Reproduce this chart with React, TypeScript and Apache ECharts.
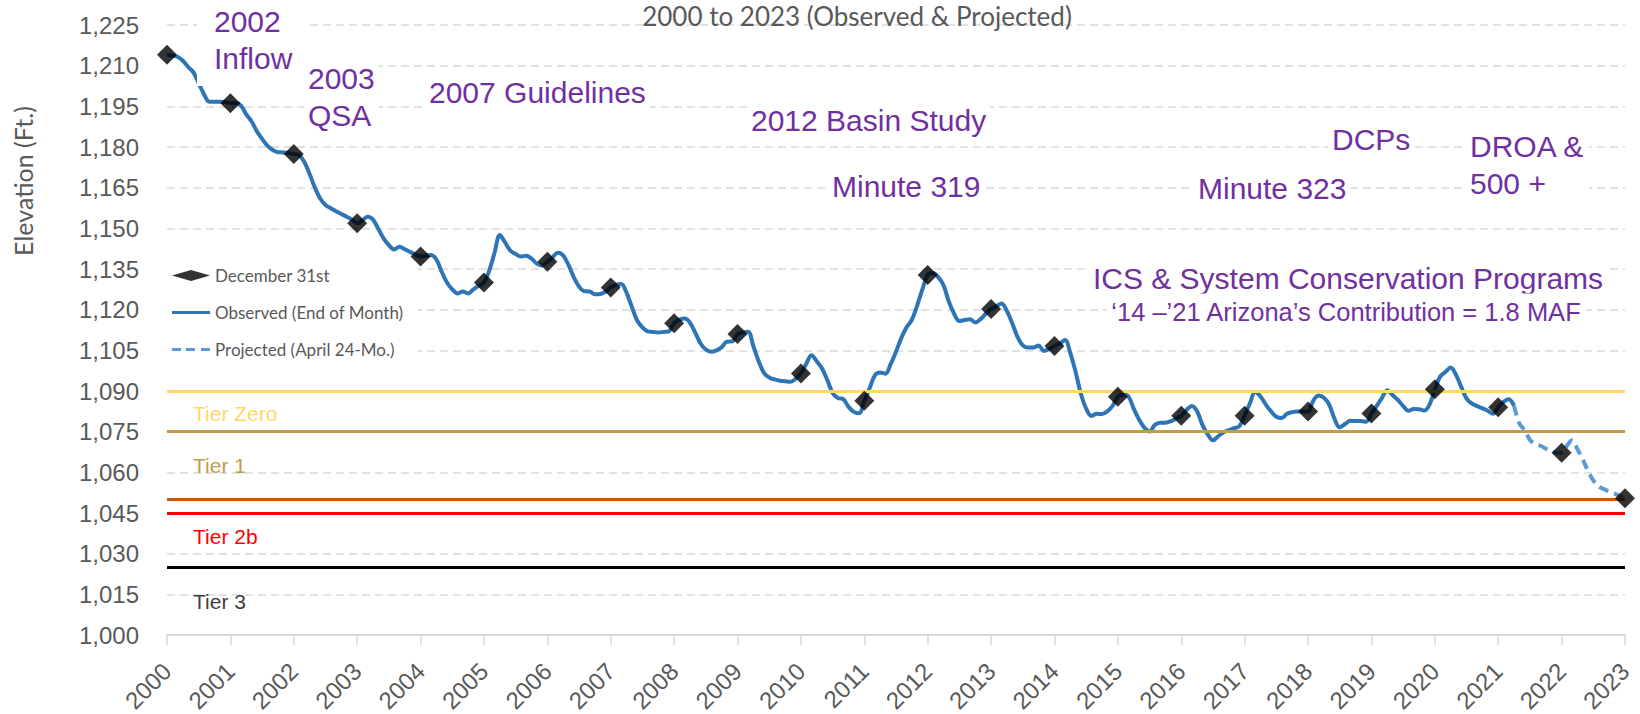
import React, { useEffect, useRef } from "react";
import * as echarts from "echarts";

// ---------- DATA ----------
const START_YEAR = 2000;

// End-of-month elevation (ft), observed, month 0 = Dec 31 1999 ... month 255 = Mar 2021
const observedElevation = [
  1214, 1213.7, 1213.3, 1211.8, 1209.5, 1207.5, 1203.5, 1199.5, 1196.7, 1196.7, 1196.7, 1196.6,
  1196.1, 1196.2, 1195.3, 1192, 1189.5, 1185.8, 1183, 1180.5, 1178.9, 1178.1, 1178, 1177.8,
  1177.4, 1177, 1174.5, 1170, 1165, 1161, 1158.6, 1157.4, 1156.3, 1155.3, 1154.3, 1153.2,
  1151.9, 1153, 1154.3, 1153.2, 1149.8, 1146.3, 1143.8, 1142.2, 1143.2, 1142.3, 1141.3, 1140.4,
  1139.6, 1140, 1140.2, 1138.5, 1134, 1130, 1127.5, 1126, 1126.7, 1126, 1127.5, 1128.8,
  1130, 1134.4, 1141, 1147.5, 1144.8, 1141.8, 1140.5, 1139.6, 1139.9, 1138.8, 1137, 1136.3,
  1137.7, 1139.3, 1141, 1140, 1136.5, 1132, 1128.5, 1126.8, 1126.7, 1125.7, 1125.8, 1126.6,
  1128.2, 1129.2, 1129.5, 1126.2, 1121, 1116, 1113.5, 1112, 1111.8, 1111.6, 1111.8, 1112,
  1115, 1116.3, 1116.7, 1115.2, 1111.5, 1107.5, 1105.3, 1104.5, 1105, 1106.2, 1108.2, 1108.3,
  1111, 1111.6, 1111.9, 1106.5, 1101, 1096.7, 1095, 1094.3, 1093.8, 1093.6, 1093.4, 1094.5,
  1096.5, 1100, 1103.2, 1101, 1098.3, 1094, 1089.3, 1087.4, 1087, 1084.2, 1082.3, 1081.8,
  1086.4, 1091, 1095.8, 1096.8, 1096.4, 1100, 1104.5, 1109.5, 1113.5, 1116.2, 1121.5, 1127.5,
  1132.8, 1133.5, 1132, 1129, 1123, 1118.5, 1115.8, 1116.2, 1116.5, 1115.3, 1116.5, 1118.5,
  1120.2, 1121.3, 1122.3, 1119.5, 1115, 1110, 1106.8, 1106, 1106, 1106.8, 1104.8, 1105.5,
  1106.6, 1107.5, 1108.8, 1104, 1097, 1089, 1083.5, 1080.8, 1081.6, 1081.5, 1082.5, 1084.5,
  1087.9, 1088.7, 1088, 1083.5, 1079.5, 1076.5, 1075.1, 1077.5, 1078.3, 1078.3, 1078.8, 1079.8,
  1080.9, 1083, 1084.5, 1082.5, 1077.5, 1074, 1071.8, 1073.3, 1074.8, 1075.6, 1076.3, 1077,
  1080.9, 1085.5, 1089.6, 1088, 1085, 1082.5, 1080.5, 1080, 1081.6, 1082.2, 1082.4, 1082.4,
  1082.4, 1086.5, 1088.3, 1087.5, 1085, 1079.8, 1076.6, 1077.8, 1079, 1078.9, 1078.9, 1078.7,
  1081.7, 1084.5, 1087.5, 1090.3, 1088.5, 1086.7, 1084.5, 1082.7, 1083.4, 1083.3, 1082.8, 1085,
  1090.6, 1095.3, 1097, 1098.7, 1096, 1091.5, 1087.2, 1085.4, 1084.4, 1083.6, 1082.7, 1081.6,
  1084, 1086, 1087, 1084.5,
];

// Projected (April 24-Month study), month 255 ... month 276 (Dec 31 2022)
const PROJECTED_START_MONTH = 255;
const projectedElevation = [
  1084.5, 1078, 1075.5, 1072, 1070.5, 1069.8, 1068.8, 1067.7, 1067.3,
  1067.2, 1069.8, 1071.8, 1068.5, 1064.8, 1060.5, 1057, 1054.8, 1053.8, 1052.9, 1052.2, 1051.3,
  1050.4,
];

// December 31st markers (plotted at the start of each year tick)
const dec31Years = [
  2000, 2001, 2002, 2003, 2004, 2005, 2006, 2007, 2008, 2009, 2010, 2011,
  2012, 2013, 2014, 2015, 2016, 2017, 2018, 2019, 2020, 2021, 2022, 2023,
];
const dec31Elevation = [
  1214, 1196.1, 1177.4, 1151.9, 1139.6, 1130, 1137.7, 1128.2, 1115, 1111, 1096.5, 1086.4,
  1132.8, 1120.2, 1106.6, 1087.9, 1080.9, 1080.9, 1082.4, 1081.7, 1090.6, 1084, 1067.2, 1050.4,
];

// Shortage tier thresholds
const tierLevels = [1090, 1075, 1050, 1045, 1025];
const tierColors = ["#FFD966", "#BF9E46", "#C55A11", "#FF0000", "#000000"];

const Y_MIN = 1000;
const Y_MAX = 1225;
const Y_STEP = 15;
const X_MIN = 2000;
const X_MAX = 2023;

const NAME_DEC = "December 31st";
const NAME_OBS = "Observed (End of Month)";
const NAME_PROJ = "Projected (April 24-Mo.)";

const PURPLE = "#7030A0";
const ARIAL = '"Liberation Sans", Arial, sans-serif';
const CALIBRI = 'Lato, "Open Sans", sans-serif';

function annotation(text: string, x: number, y: number, size = 30, align = "left", lh = 37) {
  return {
    type: "text",
    z: 1,
    silent: true,
    style: {
      text,
      x,
      y,
      fill: PURPLE,
      font: `${size}px ${ARIAL}`,
      align,
      verticalAlign: "middle",
      lineHeight: lh,
      backgroundColor: "#fff",
      padding: [0, 4],
    },
  };
}

function tierLabel(text: string, color: string, y: number) {
  return {
    type: "text",
    z: 1,
    silent: true,
    style: { text, x: 193, y, fill: color, font: `21px ${ARIAL}`, verticalAlign: "middle" },
  };
}

export default function App() {
  const ref = useRef<HTMLDivElement>(null);

  useEffect(() => {
    if (!ref.current) return;
    const chart = echarts.init(ref.current, undefined, { renderer: "svg" });

    const obsData = observedElevation.map((v, i) => [START_YEAR + i / 12, v]);
    const projData = projectedElevation.map((v, i) => [
      START_YEAR + (PROJECTED_START_MONTH + i) / 12,
      v,
    ]);
    const decData = dec31Years.map((yr, i) => [yr, dec31Elevation[i]]);

    const option: any = {
      animation: false,
      backgroundColor: "#fff",
      title: {
        text: "2000 to 2023 (Observed & Projected)",
        left: 857,
        top: 3,
        padding: 0,
        textAlign: "center",
        textStyle: { fontFamily: CALIBRI, fontSize: 26, fontWeight: "normal", color: "#595959" },
      },
      grid: { left: 167, right: 15, top: 25, bottom: 79, containLabel: false, outerBoundsMode: "none" },
      legend: {
        data: [
          { name: NAME_DEC, icon: "diamond" },
          { name: NAME_OBS, icon: "path://M0,0L38,0L38,3L0,3Z" },
          {
            name: NAME_PROJ,
            icon: "path://M0,0L9,0L9,3L0,3Z M14,0L23,0L23,3L14,3Z M29,0L38,0L38,3L29,3Z",
          },
        ],
        orient: "vertical",
        left: 164,
        top: 261,
        itemWidth: 38,
        itemHeight: 11,
        itemGap: 20,
        padding: [6, 14, 6, 8],
        backgroundColor: "#fff",
        selectedMode: false,
        textStyle: { fontFamily: CALIBRI, fontSize: 17, color: "#595959", lineHeight: 16 },
      },
      xAxis: {
        type: "value",
        min: X_MIN,
        max: X_MAX,
        interval: 1,
        axisLine: { show: true, lineStyle: { color: "#D9D9D9", width: 2 } },
        axisTick: { show: true, length: 10, lineStyle: { color: "#D9D9D9", width: 1.5 } },
        axisLabel: {
          rotate: 45,
          margin: 32,
          fontFamily: ARIAL,
          fontSize: 24,
          color: "#595959",
          formatter: (v: number) => String(v),
        },
        splitLine: { show: false },
      },
      yAxis: {
        type: "value",
        min: Y_MIN,
        max: Y_MAX,
        interval: Y_STEP,
        axisLine: { show: false },
        axisTick: { show: false },
        axisLabel: {
          margin: 28,
          fontFamily: ARIAL,
          fontSize: 24,
          color: "#595959",
          formatter: (v: number) => v.toLocaleString("en-US"),
        },
        splitLine: { show: true, lineStyle: { color: "#D9D9D9", width: 1.5, type: [8, 5] } },
      },
      series: [
        {
          name: "tiers",
          type: "line",
          z: 1,
          data: [[X_MIN, Y_MIN]],
          symbol: "none",
          silent: true,
          lineStyle: { opacity: 0 },
          markLine: {
            silent: true,
            symbol: ["none", "none"],
            label: { show: false },
            data: tierLevels.map((lv, i) => ({
              yAxis: lv,
              lineStyle: { color: tierColors[i], width: 3, type: "solid" },
            })),
          },
        },
        {
          name: NAME_OBS,
          type: "line",
          z: 3,
          data: obsData,
          symbol: "none",
          smooth: 0.35,
          lineStyle: { color: "#2E75B6", width: 4 },
          itemStyle: { color: "#2E75B6" },
        },
        {
          name: NAME_PROJ,
          type: "line",
          z: 3,
          data: projData,
          symbol: "none",
          smooth: 0.35,
          lineStyle: { color: "#5B9BD5", width: 4, type: [10, 6] },
          itemStyle: { color: "#5B9BD5" },
        },
        {
          name: NAME_DEC,
          type: "scatter",
          z: 5,
          data: decData,
          symbol: "diamond",
          symbolSize: 20,
          itemStyle: { color: "#000" },
        },
      ],
      graphic: [
        {
          type: "text",
          z: 1,
          silent: true,
          rotation: Math.PI / 2,
          x: 23,
          y: 181,
          style: {
            text: "Elevation (Ft.)",
            x: 0,
            y: 0,
            fill: "#595959",
            font: `25px ${CALIBRI}`,
            align: "center",
            verticalAlign: "middle",
          },
        },
        {
          type: "rect",
          z: 4,
          silent: true,
          shape: { x: 197, y: 0, width: 108, height: 86 },
          style: { fill: "#fff" },
        },
        {
          type: "rect",
          z: 1,
          silent: true,
          shape: { x: 167, y: 40, width: 30, height: 46 },
          style: { fill: "#fff" },
        },
        { ...annotation("2002\nInflow", 210, 39.5), z: 5 },
        annotation("2003\nQSA", 304, 96.5),
        annotation("2007 Guidelines", 425, 92),
        annotation("2012 Basin Study", 747, 120),
        annotation("Minute 319", 828, 186),
        annotation("Minute 323", 1194, 188),
        annotation("DCPs", 1328, 139),
        annotation("DROA &\n500 +", 1466, 164.5),
        annotation("ICS & System Conservation Programs", 1348, 278, 30, "center"),
        annotation("\u201814 \u2013\u201921 Arizona\u2019s Contribution = 1.8 MAF", 1346, 312, 25.5, "center"),
        tierLabel("Tier Zero", "#FFD966", 413),
        tierLabel("Tier 1", "#BF9E46", 465),
        tierLabel("Tier 2b", "#FF0000", 536),
        tierLabel("Tier 3", "#404040", 601),
      ],
    };

    chart.setOption(option);
    return () => chart.dispose();
  }, []);

  return (
    <div
      ref={ref}
      style={{ position: "fixed", left: 0, top: 0, width: 1640, height: 714, background: "#fff" }}
    />
  );
}
